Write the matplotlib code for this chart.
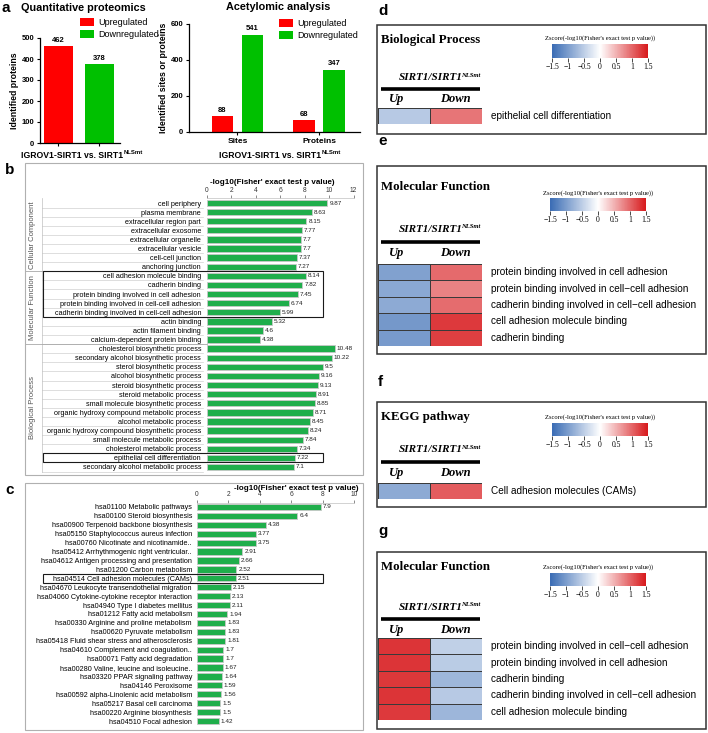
import numpy as np
import matplotlib.pyplot as plt
from matplotlib.colors import LinearSegmentedColormap
from matplotlib.patches import Rectangle

SANS = 'Liberation Sans'
SERIF = 'Liberation Serif'
plt.rcParams['font.family'] = [SANS, 'DejaVu Sans']

# ---------------- data ----------------
quant_labels = ["Upregulated", "Downregulated"]
quant_counts = [462, 378]

acet_categories = ["Sites", "Proteins"]
acet_up = [88, 68]
acet_down = [541, 347]

go_terms = [
    "cell periphery", "plasma membrane", "extracellular region part", "extracellular exosome",
    "extracellular organelle", "extracellular vesicle", "cell-cell junction", "anchoring junction",
    "cell adhesion molecule binding", "cadherin binding", "protein binding involved in cell adhesion",
    "protein binding involved in cell-cell adhesion", "cadherin binding involved in cell-cell adhesion",
    "actin binding", "actin filament binding", "calcium-dependent protein binding",
    "cholesterol biosynthetic process", "secondary alcohol biosynthetic process",
    "sterol biosynthetic process", "alcohol biosynthetic process", "steroid biosynthetic process",
    "steroid metabolic process", "small molecule biosynthetic process",
    "organic hydroxy compound metabolic process", "alcohol metabolic process",
    "organic hydroxy compound biosynthetic process", "small molecule metabolic process",
    "cholesterol metabolic process", "epithelial cell differentiation",
    "secondary alcohol metabolic process",
]
go_values = [9.87, 8.63, 8.15, 7.77, 7.7, 7.7, 7.37, 7.27,
             8.14, 7.82, 7.45, 6.74, 5.99, 5.32, 4.6, 4.38,
             10.48, 10.22, 9.5, 9.16, 9.13, 8.91, 8.85, 8.71, 8.45, 8.24, 7.84, 7.34, 7.22, 7.1]
go_groups = ["Cellular Component", "Molecular Function", "Biological Process"]
go_group_sizes = [8, 8, 14]
go_highlight = [(8, 12), (28, 28)]

kegg_terms = [
    "hsa01100 Metabolic pathways", "hsa00100 Steroid biosynthesis",
    "hsa00900 Terpenoid backbone biosynthesis", "hsa05150 Staphylococcus aureus infection",
    "hsa00760 Nicotinate and nicotinamide..", "hsa05412 Arrhythmogenic right ventricular..",
    "hsa04612 Antigen processing and presentation", "hsa01200 Carbon metabolism",
    "hsa04514 Cell adhesion molecules (CAMs)", "hsa04670 Leukocyte transendothelial migration",
    "hsa04060 Cytokine-cytokine receptor interaction", "hsa04940 Type I diabetes mellitus",
    "hsa01212 Fatty acid metabolism", "hsa00330 Arginine and proline metabolism",
    "hsa00620 Pyruvate metabolism", "hsa05418 Fluid shear stress and atherosclerosis",
    "hsa04610 Complement and coagulation..", "hsa00071 Fatty acid degradation",
    "hsa00280 Valine, leucine and isoleucine..", "hsa03320 PPAR signaling pathway",
    "hsa04146 Peroxisome", "hsa00592 alpha-Linolenic acid metabolism",
    "hsa05217 Basal cell carcinoma", "hsa00220 Arginine biosynthesis", "hsa04510 Focal adhesion",
]
kegg_values = [7.9, 6.4, 4.38, 3.77, 3.75, 2.91, 2.66, 2.52, 2.51, 2.15, 2.13, 2.11, 1.94,
               1.83, 1.83, 1.81, 1.7, 1.7, 1.67, 1.64, 1.59, 1.56, 1.5, 1.5, 1.42]
kegg_highlight = [(8, 8)]

hm_columns = ["Up", "Down"]
d_terms = ["epithelial cell differentiation"]
d_z = [[-0.55, 0.9]]
e_terms = ["protein binding involved in cell adhesion",
           "protein binding involved in cell\u2212cell adhesion",
           "cadherin binding involved in cell\u2212cell adhesion",
           "cell adhesion molecule binding", "cadherin binding"]
e_z = [[-0.95, 0.97], [-0.88, 0.82], [-0.86, 0.95], [-1.05, 1.28], [-1.02, 1.25]]
f_terms = ["Cell adhesion molecules (CAMs)"]
f_z = [[-0.86, 1.06]]
g_terms = ["protein binding involved in cell\u2212cell adhesion",
           "protein binding involved in cell adhesion", "cadherin binding",
           "cadherin binding involved in cell\u2212cell adhesion",
           "cell adhesion molecule binding"]
g_z = [[1.32, -0.48], [1.32, -0.52], [1.3, -0.73], [1.32, -0.55], [1.28, -0.75]]

# ---------------- figure ----------------
W, H = 708, 733
fig = plt.figure(figsize=(W / 100, H / 100), dpi=100)
RED, GREEN, BARGREEN = '#ff0000', '#00c000', '#1fae4b'


def px_axes(x0, y0, x1, y1, **kw):
    return fig.add_axes([x0 / W, 1 - y1 / H, (x1 - x0) / W, (y1 - y0) / H], **kw)


# overlay in pixel coordinates for text and frames
bg = px_axes(0, 0, W, H, zorder=10)
bg.set_xlim(0, W)
bg.set_ylim(H, 0)
bg.axis('off')


def text_sup(x, y, main, sup, size, sup_size, dx=0.3, dy=0.5, ha='left', va='center', **kw):
    t = bg.text(x, y, main, fontsize=size, ha=ha, va=va, **kw)
    bg.annotate(sup, xy=(1, 1), xycoords=t, xytext=(dx, dy), textcoords='offset points',
                fontsize=sup_size, ha='left', va='top', **kw)


def letter(x, y, s):
    bg.text(x, y, s, fontsize=11, fontweight='bold', va='center', ha='left')


def style_count_axes(ax):
    for s in ['top', 'right']:
        ax.spines[s].set_visible(False)
    for s in ['left', 'bottom']:
        ax.spines[s].set_linewidth(0.9)
    ax.tick_params(labelsize=5.5, length=2.5, width=0.8, pad=1.5)
    for lab in ax.get_yticklabels() + ax.get_xticklabels():
        lab.set_fontweight('bold')


# ---- panel a (left) ----
letter(2, 8, "a")
bg.text(21, 8, "Quantitative proteomics", fontsize=7.8, fontweight='bold', va='center')
ax1 = px_axes(40, 38, 120, 143)
for i, (lab, v, c) in enumerate(zip(quant_labels, quant_counts, [RED, GREEN])):
    ax1.bar(i, v, width=0.71, color=c, label=lab)
    ax1.text(i, v + 10, str(v), ha='center', va='bottom', fontsize=5.5, fontweight='bold')
ax1.set_xlim(-0.45, 1.5)
ax1.set_ylim(0, 500)
ax1.set_yticks([0, 100, 200, 300, 400, 500])
ax1.set_xticks([0, 1])
ax1.set_xticklabels(['', ''])
style_count_axes(ax1)
ax1.set_ylabel("Identified proteins", fontsize=6.3, fontweight='bold', labelpad=2)
ax1.legend(loc='upper left', bbox_to_anchor=(80 / W, 1 - 18 / H), bbox_transform=fig.transFigure,
           frameon=False, fontsize=6.5, handlelength=1.5, handleheight=1.0, labelspacing=0.35,
           handletextpad=0.5, borderpad=0, borderaxespad=0)
text_sup(72, 155, "IGROV1-SIRT1 vs. SIRT1", "NLSmt", 6.2, 4.3, ha='center', fontweight='bold')

# ---- panel a (right) ----
bg.text(278, 7, "Acetylomic analysis", fontsize=7.8, fontweight='bold', va='center', ha='center')
ax2 = px_axes(189, 24, 360, 132)
xc = np.arange(len(acet_categories))
off = 0.184
ax2.bar(xc - off, acet_up, width=0.26, color=RED, label="Upregulated")
ax2.bar(xc + off, acet_down, width=0.26, color=GREEN, label="Downregulated")
for i in range(len(xc)):
    ax2.text(xc[i] - off, acet_up[i] + 12, str(acet_up[i]), ha='center', va='bottom',
             fontsize=5.5, fontweight='bold')
    ax2.text(xc[i] + off, acet_down[i] + 12, str(acet_down[i]), ha='center', va='bottom',
             fontsize=5.5, fontweight='bold')
ax2.set_xlim(-0.595, 1.503)
ax2.set_ylim(0, 600)
ax2.set_yticks([0, 200, 400, 600])
ax2.set_xticks(xc)
ax2.set_xticklabels(acet_categories)
style_count_axes(ax2)
ax2.tick_params(axis='x', labelsize=6)
ax2.set_ylabel("Identified sites or proteins", fontsize=6.3, fontweight='bold', labelpad=2)
ax2.legend(loc='upper left', bbox_to_anchor=(279 / W, 1 - 19 / H), bbox_transform=fig.transFigure,
           frameon=False, fontsize=6.5, handlelength=1.5, handleheight=1.0, labelspacing=0.35,
           handletextpad=0.5, borderpad=0, borderaxespad=0)
text_sup(270, 155, "IGROV1-SIRT1 vs. SIRT1", "NLSmt", 6.2, 4.3, ha='center', fontweight='bold')


# ---- helpers for b and c ----
def hbar_panel(ax, terms, values, xmax, xticks, label_pad):
    n = len(terms)
    y = np.arange(n)
    ax.barh(y, values, height=0.7, color=BARGREEN, edgecolor='#c8c8c8', linewidth=0.6)
    ax.set_ylim(n - 0.5, -0.5)
    ax.set_xlim(0, xmax)
    ax.xaxis.tick_top()
    ax.set_xticks(xticks)
    ax.tick_params(axis='x', labelsize=4.8, length=2, width=0.4, pad=1, colors='#333333')
    ax.set_yticks(y)
    ax.set_yticklabels(terms, fontsize=5.2)
    ax.tick_params(axis='y', length=0, pad=label_pad)
    for s in ['left', 'right', 'bottom']:
        ax.spines[s].set_visible(False)
    ax.spines['top'].set_color('#c0c0c0')
    ax.spines['top'].set_linewidth(0.5)
    ax.patch.set_alpha(0)
    for yi, v in zip(y, values):
        ax.text(v + xmax * 0.012, yi, f"{v:g}", va='center', fontsize=4.6, color='#222222')


def highlight(ax, rows, x0, x1):
    tr = ax.get_yaxis_transform()
    for r0, r1 in rows:
        ax.add_patch(Rectangle((x0, r0 - 0.5), x1 - x0, r1 - r0 + 1, transform=tr, fill=False,
                               ec='#1a1a1a', lw=0.8, clip_on=False, zorder=5))


# ---- panel b ----
letter(5, 170, "b")
bg.add_patch(Rectangle((25, 163), 338, 312, fill=False, ec='#b0b0b0', lw=0.8))
bx0, bx1 = 207, 353.5
axb = px_axes(bx0, 198.45, bx1, 471.55)
hbar_panel(axb, go_terms, go_values, 12, [0, 2, 4, 6, 8, 10, 12], 4.3)
bg.text(272, 182, "-log10(Fisher' exact test p value)", fontsize=5.8, fontweight='bold',
        ha='center', va='center')


def frac_b(xp):
    return (xp - bx0) / (bx1 - bx0)


trb = axb.get_yaxis_transform()
for i in range(len(go_terms)):
    axb.plot([frac_b(42), frac_b(203)], [i + 0.5, i + 0.5], transform=trb, clip_on=False,
             color='#d0d0d0', lw=0.5)
axb.plot([frac_b(42), frac_b(42)], [-0.5, len(go_terms) - 0.5], transform=trb, clip_on=False,
         color='#c0c0c0', lw=0.5)
start = 0
for name, size in zip(go_groups, go_group_sizes):
    axb.text(frac_b(33), start + (size - 1) / 2, name, rotation=90, transform=trb, ha='center',
             va='center', fontsize=5.5, color='#555555')
    start += size
    if start < len(go_terms):
        axb.plot([frac_b(25), 0], [start - 0.5, start - 0.5], transform=trb, clip_on=False,
                 color='#a8a8a8', lw=0.6)
highlight(axb, go_highlight, frac_b(43), frac_b(323))

# ---- panel c ----
letter(5, 490, "c")
bg.add_patch(Rectangle((25, 483), 338, 247, fill=False, ec='#b0b0b0', lw=0.8))
cx0, cx1 = 196.7, 354
axc = px_axes(cx0, 502.5, cx1, 725.5)
hbar_panel(axc, kegg_terms, kegg_values, 10, [0, 2, 4, 6, 8, 10], 3.4)
bg.text(359, 488, "-log10(Fisher' exact test p value)", fontsize=5.8, fontweight='bold',
        ha='right', va='center')
highlight(axc, kegg_highlight, (43 - cx0) / (cx1 - cx0), (323 - cx0) / (cx1 - cx0))

# ---- panels d-g: heatmaps ----
cmap = LinearSegmentedColormap.from_list('zscore', ['#3a6cb4', '#ffffff', '#d7191c'])

heat_panels = [
    dict(letter="d", letter_y=11, box=(377, 25, 706, 134), title="Biological Process", title_y=40,
         cb=(552, 44, 648, 58), cbt_y=38, sirt_y=78, line_y=89, ud_y=99, hm=(108, 124),
         terms=d_terms, z=d_z),
    dict(letter="e", letter_y=141, box=(377, 166, 706, 354), title="Molecular Function", title_y=187,
         cb=(550, 198, 646, 211), cbt_y=193, sirt_y=229, line_y=242, ud_y=253, hm=(264, 346),
         terms=e_terms, z=e_z),
    dict(letter="f", letter_y=382, box=(377, 402, 706, 507), title="KEGG pathway", title_y=417,
         cb=(552, 423, 648, 436), cbt_y=417, sirt_y=450, line_y=462, ud_y=473, hm=(483, 499),
         terms=f_terms, z=f_z),
    dict(letter="g", letter_y=531, box=(377, 552, 706, 729), title="Molecular Function", title_y=567,
         cb=(550, 573, 646, 586), cbt_y=567, sirt_y=607, line_y=619, ud_y=630, hm=(638, 720),
         terms=g_terms, z=g_z),
]

cb_ticks = [-1.5, -1, -0.5, 0, 0.5, 1, 1.5]
for p in heat_panels:
    letter(378, p["letter_y"], p["letter"])
    x0, y0, x1, y1 = p["box"]
    bg.add_patch(Rectangle((x0, y0), x1 - x0, y1 - y0, fill=False, ec='#333333', lw=1.1))
    bg.text(381, p["title_y"], p["title"], fontfamily=SERIF, fontweight='bold', fontsize=9.3,
            va='center')
    # colour key
    cx_0, cy_0, cx_1, cy_1 = p["cb"]
    cax = px_axes(cx_0, cy_0, cx_1, cy_1)
    # heatmap
    h0, h1 = p["hm"]
    hax = px_axes(378, h0, 482, h1)
    mesh = hax.pcolormesh(np.array(p["z"]), cmap=cmap, vmin=-1.5, vmax=1.5,
                          edgecolors='#3a3a3a', linewidth=0.5)
    hax.set_ylim(len(p["z"]), 0)
    hax.axis('off')
    cb = fig.colorbar(mesh, cax=cax, orientation='horizontal', ticks=cb_ticks)
    cb.outline.set_visible(False)
    cb.ax.set_xticklabels([f"{t:g}".replace('-', '\u2212') for t in cb_ticks],
                          fontfamily=SERIF, fontsize=5.5)
    cb.ax.tick_params(length=3, width=0.5, pad=0.5)
    bg.text((cx_0 + cx_1) / 2, p["cbt_y"], "Zscore(-log10(Fisher's exact test p value))",
            fontfamily=SERIF, fontsize=4.7, ha='center', va='center')
    # header
    text_sup(431, p["sirt_y"], "SIRT1/SIRT1", "NLSmt", 8, 4.8, dx=-1.0, dy=0.2, ha='center',
             fontfamily=SERIF, fontweight='bold', fontstyle='italic')
    bg.plot([381, 480], [p["line_y"], p["line_y"]], color='black', lw=2.6, solid_capstyle='butt')
    for cx, col in zip([397, 455], hm_columns):
        bg.text(cx, p["ud_y"], col, fontfamily=SERIF, fontweight='bold', fontstyle='italic',
                fontsize=9, ha='center', va='center')
    rh = (h1 - h0) / len(p["terms"])
    for i, term in enumerate(p["terms"]):
        bg.text(491, h0 + (i + 0.5) * rh, term, fontsize=7.2, va='center')

fig.savefig("out.png", dpi=100)
